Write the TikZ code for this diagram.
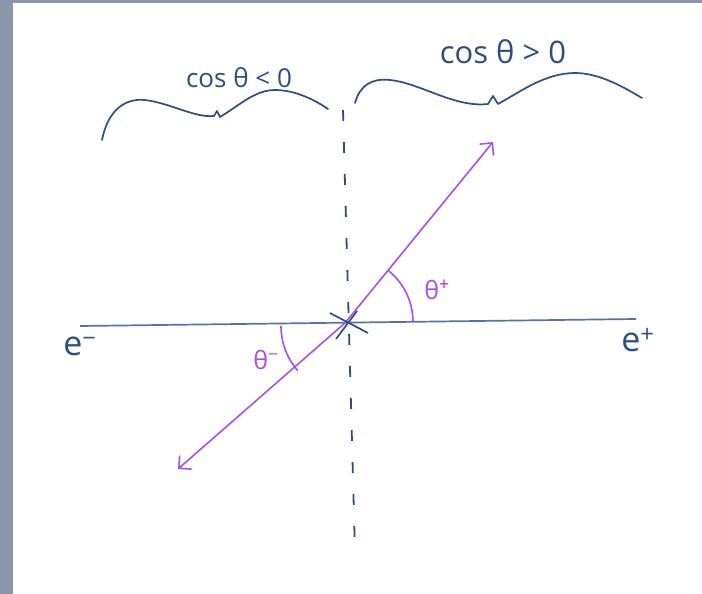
\documentclass[tikz,border=0pt]{standalone}
\usepackage{fontspec}
\setmainfont{Open Sans}
\usetikzlibrary{arrows.meta, positioning}
\definecolor{framec}{HTML}{8A97AA}
\definecolor{inkc}{HTML}{2E4E7E}
\definecolor{axisc}{HTML}{5872A0}
\definecolor{trackc}{HTML}{A652E6}
\definecolor{signc}{HTML}{C21AE8}
\begin{document}
\begin{tikzpicture}[x=1pt, y=-1pt,
    axisline/.style={draw=axisc, line width=1.7pt},
    divider/.style={draw=inkc, line width=1.8pt, dash pattern=on 11pt off 21pt},
    track/.style={draw=trackc, line width=1.6pt, -{Straight Barb[length=9pt, width=18pt]}},
    anglearc/.style={draw=trackc, line width=1.6pt},
    crossmark/.style={draw=inkc, line width=1.7pt},
    brace/.style={draw=inkc, line width=1.7pt, line cap=round, line join=round},
    note/.style={text=inkc, inner sep=0pt, font=\fontsize{26}{26}\selectfont},
    beam/.style={text=inkc, inner sep=0pt, font=\fontsize{34}{34}\selectfont},
    angle/.style={text=trackc, inner sep=0pt, font=\fontsize{25}{25}\selectfont}]
    \useasboundingbox (0,0) rectangle (702,594);
    \fill[white] (0,0) rectangle (702,594);
    \fill[framec] (0,0) rectangle (13,594);
    \fill[framec] (0,0) rectangle (702,3);
    \coordinate (O) at (345,323);
    \coordinate (lstart) at (80,326);
    \coordinate (lend) at (636,319);
    \coordinate (dtop) at (343,110);
    \coordinate (dbot) at (355,552);
    \coordinate (pend) at (493,142);
    \coordinate (mend) at (178,469);
    \node [note] (cosneg) at (239,78) {cos θ < 0};
    \node [note, font=\fontsize{31}{31}\selectfont] (cospos) at (503,52) {cos θ > 0};
    \node [beam] (eminus) at (80,346) {e\textsuperscript{−}};
    \node [beam] (eplus) at (638,340) {e\textsuperscript{+}};
    \node [angle] (thplus) at (437,290) {θ\textsuperscript{\color{signc}+}};
    \node [angle] (thminus) at (266,360) {θ\textsuperscript{−}};
    \draw [axisline] (lstart) -- (lend);
    \draw [divider] (dtop) -- (dbot);
    \draw [track] (O) -- (pend);
    \draw [track] (O) -- (mend);
    \draw [anglearc] (O) ++(68,-1) arc[start angle=0, end angle=-52, radius=66];
    \draw [anglearc] (O) ++(-64,3) arc[start angle=180, end angle=139, radius=68];
    \draw [crossmark] (330,313) -- (368,333);
    \draw [crossmark] (336,339) -- (357,311);
    \draw [brace] (102,140) .. controls (108,110) and (125,98) .. (145,100)
        .. controls (170,103) and (195,118) .. (214,116) -- (217,111) -- (220,117)
        .. controls (240,105) and (255,90) .. (275,90)
        .. controls (295,90) and (315,100) .. (328,109);
    \draw [brace] (355,103) .. controls (360,85) and (372,78) .. (390,80)
        .. controls (420,83) and (455,108) .. (488,104) -- (493,96) -- (498,104)
        .. controls (520,92) and (545,73) .. (575,73)
        .. controls (600,73) and (625,88) .. (642,98);
\end{tikzpicture}
\end{document}
